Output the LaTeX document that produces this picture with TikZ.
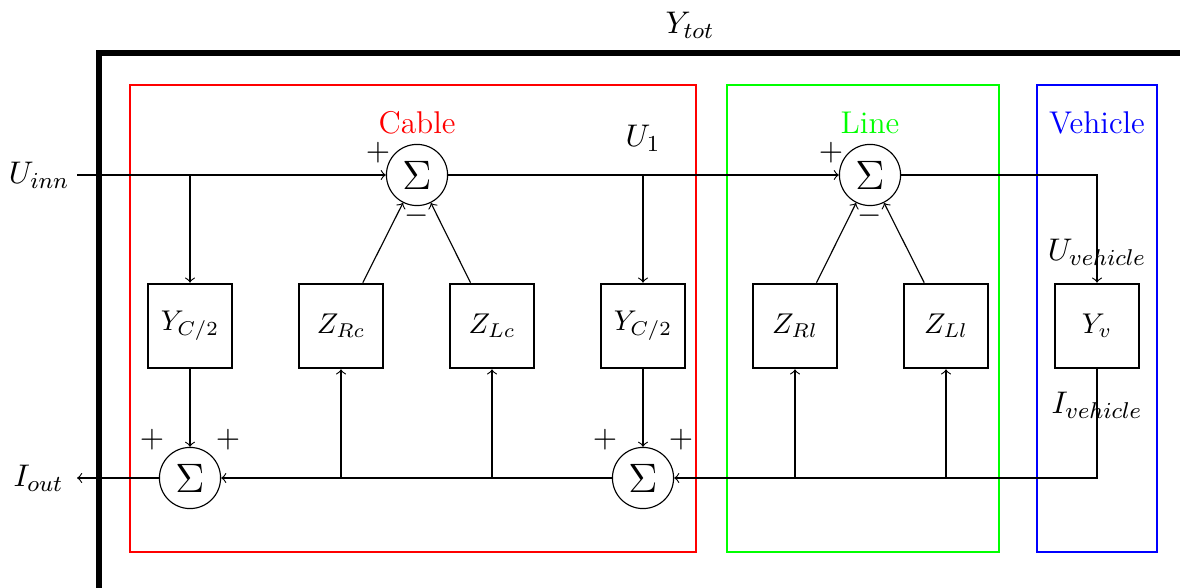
\documentclass[tikz,border=0pt]{standalone}
\begin{document}
\begin{tikzpicture}[x=0.35pt,y=-0.35pt,>=to,
  blk/.style={draw,line width=0.9pt,minimum width=29.4pt,minimum height=29.4pt,inner sep=0pt},
  sumnode/.style={draw,circle,minimum size=21.4pt,inner sep=0pt,font=\fontsize{15}{17}\selectfont},
  sgn/.style={inner sep=0pt,font=\fontsize{11}{12}\selectfont},
  lbl/.style={inner sep=0pt,font=\fontsize{11}{13}\selectfont}]
\useasboundingbox (0,0) rectangle (1180,588);
\clip (0,0) rectangle (1180,588);
% frames
\draw[line width=2pt] (99,620) -- (99,53) -- (1220,53);
\draw[red] (130,85) rectangle (696,552);
\draw[green] (727,85) rectangle (999,552);
\draw[blue] (1037,85) rectangle (1157,552);
% sums
\node[sumnode] (s1) at (417,175) {$\Sigma$};
\node[sumnode] (s2) at (870,175) {$\Sigma$};
\node[sumnode] (s3) at (190,478) {$\Sigma$};
\node[sumnode] (s4) at (643,478) {$\Sigma$};
% blocks
\node[blk] (yc1) at (190,326) {$Y_{C/2}$};
\node[blk] (zrc) at (341,326) {$Z_{Rc}$};
\node[blk] (zlc) at (492,326) {$Z_{Lc}$};
\node[blk] (yc2) at (643,326) {$Y_{C/2}$};
\node[blk] (zrl) at (795,326) {$Z_{Rl}$};
\node[blk] (zll) at (946,326) {$Z_{Ll}$};
\node[blk] (yv) at (1097,326) {$Y_v$};
% coordinates
\coordinate (in) at (77,175);
\coordinate (out) at (77,478);
\coordinate (b1) at (190,175);
\coordinate (b2) at (643,175);
\coordinate (c1) at (1097,175);
\coordinate (c2) at (1097,478);
\coordinate (d1) at (795,478);
\coordinate (d2) at (946,478);
\coordinate (e1) at (341,478);
\coordinate (e2) at (492,478);
% labels
\node[lbl,anchor=east] (uinn) at (70,175) {$U_{inn}$};
\node[lbl,anchor=east] (iout) at (64,478) {$I_{out}$};
\node[lbl] (ytot) at (690,25) {$Y_{tot}$};
\node[lbl] (u1) at (643,138) {$U_1$};
\node[lbl] (uveh) at (1097,252) {$U_{vehicle}$};
\node[lbl] (iveh) at (1097,405) {$I_{vehicle}$};
\node[lbl,red] (cable) at (417,123) {Cable};
\node[lbl,green] (line) at (870,123) {Line};
\node[lbl,blue] (veh) at (1097,123) {Vehicle};
\node[sgn] (p1) at (378,153) {$+$};
\node[sgn] (m1) at (417,216) {$-$};
\node[sgn] (p2) at (831,153) {$+$};
\node[sgn] (m2) at (870,216) {$-$};
\node[sgn] (p3) at (152,440) {$+$};
\node[sgn] (p4) at (228,440) {$+$};
\node[sgn] (p5) at (605,440) {$+$};
\node[sgn] (p6) at (681,440) {$+$};
% connectors
\draw[->] (in) -- (s1);
\draw[->] (s1) -- (s2);
\draw[->] (s2) -- (c1) -- (yv);
\draw[->] (b1) -- (yc1);
\draw[->] (b2) -- (yc2);
\draw[->] (zrc) -- (s1);
\draw[->] (zlc) -- (s1);
\draw[->] (zrl) -- (s2);
\draw[->] (zll) -- (s2);
\draw[->] (yc1) -- (s3);
\draw[->] (yc2) -- (s4);
\draw[->] (yv) -- (c2) -- (s4);
\draw[->] (d1) -- (zrl);
\draw[->] (d2) -- (zll);
\draw[->] (s4) -- (s3);
\draw[->] (e1) -- (zrc);
\draw[->] (e2) -- (zlc);
\draw[->] (s3) -- (out);
\end{tikzpicture}
\end{document}
